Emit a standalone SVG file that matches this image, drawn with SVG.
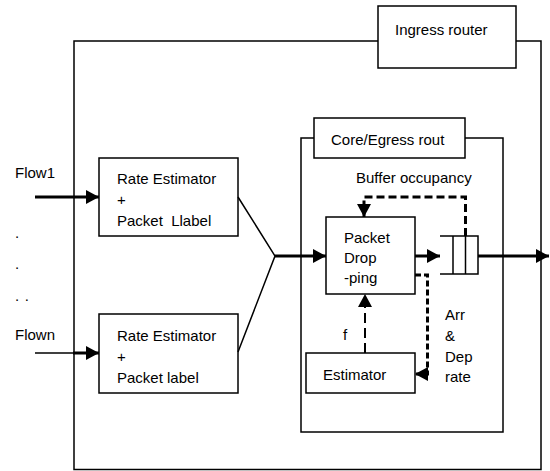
<svg xmlns="http://www.w3.org/2000/svg" width="550" height="471" viewBox="0 0 550 471">
<style>
  .box { fill: #fff; stroke: #000; stroke-width: 1.5; }
  .frame { fill: none; stroke: #000; stroke-width: 1.5; }
  text { font-family: "Liberation Sans", Arial, sans-serif; font-size: 15px; fill: #000; }
  .thick { fill: none; stroke: #000; stroke-width: 3; }
  .thin { fill: none; stroke: #000; stroke-width: 1.5; }
  .dash1 { fill: none; stroke: #000; stroke-width: 3; stroke-dasharray: 8 4; }
  .dash2 { fill: none; stroke: #000; stroke-width: 2; stroke-dasharray: 10 5; }
  .dash3 { fill: none; stroke: #000; stroke-width: 3; stroke-dasharray: 6 3; }
</style>
<defs>
  <marker id="ah" markerUnits="userSpaceOnUse" markerWidth="14" markerHeight="14" refX="13" refY="7" orient="auto">
    <path d="M0,0 L13,7 L0,14 Z" fill="#000"/>
  </marker>
</defs>

<g id="ingress-router">
  <rect class="frame" x="74" y="41" width="467" height="428.5"/>
  <rect class="box" x="378" y="6" width="138" height="62"/>
  <text x="395" y="35">Ingress router</text>
</g>

<g id="core-egress">
  <rect class="frame" x="301" y="138" width="202" height="294"/>
  <rect class="box" x="314" y="118" width="151" height="40"/>
  <text x="331" y="145">Core/Egress rout</text>
</g>

<g id="flow-labels">
  <text x="15" y="178">Flow1</text>
  <text x="15" y="238">.</text>
  <text x="15" y="269">.</text>
  <text x="15" y="301" letter-spacing="5.5">..</text>
  <text x="15" y="340">Flown</text>
</g>

<g id="rate-estimator-1">
  <rect class="box" x="99" y="158" width="139" height="78"/>
  <text x="117" y="184">Rate Estimator</text>
  <text x="117" y="205">+</text>
  <text x="117" y="226" xml:space="preserve">Packet  Llabel</text>
</g>

<g id="rate-estimator-2">
  <rect class="box" x="99" y="314" width="139" height="79"/>
  <text x="117" y="341">Rate Estimator</text>
  <text x="117" y="362">+</text>
  <text x="117" y="383">Packet label</text>
</g>

<g id="packet-dropping">
  <rect class="box" x="326" y="217" width="89" height="77"/>
  <text x="344" y="243">Packet</text>
  <text x="344" y="263">Drop</text>
  <text x="344" y="283">-ping</text>
</g>

<g id="queue">
  <path class="thin" d="M440,236 H478 V274 H440 M453,236 V274 M465.5,236 V274"/>
</g>

<g id="estimator">
  <rect class="box" x="306" y="353" width="109" height="40"/>
  <text x="323" y="380">Estimator</text>
</g>

<g id="annotations">
  <text x="356" y="183">Buffer occupancy</text>
  <text x="343" y="340">f</text>
  <text x="445" y="320">Arr</text>
  <text x="445" y="341">&amp;</text>
  <text x="445" y="362">Dep</text>
  <text x="445" y="382">rate</text>
</g>

<g id="connectors">
  <line class="thick" x1="35" y1="197" x2="99" y2="197" marker-end="url(#ah)"/>
  <line class="thin" x1="35" y1="353" x2="74" y2="353"/>
  <line class="thick" x1="73" y1="353" x2="99" y2="353" marker-end="url(#ah)"/>
  <path class="thin" d="M238,197 L275,256 L238,352"/>
  <line class="thick" x1="275" y1="256" x2="326" y2="256" marker-end="url(#ah)"/>
  <line class="thick" x1="415" y1="256" x2="440" y2="256" marker-end="url(#ah)"/>
  <line class="thick" x1="478" y1="256" x2="549" y2="256" marker-end="url(#ah)"/>
  <path class="dash1" d="M465.5,236 V197 H364 V217" marker-end="url(#ah)"/>
  <path class="dash2" d="M365,353 V294" marker-end="url(#ah)"/>
  <path class="dash3" d="M415,275 H427.5 V374 H415" marker-end="url(#ah)"/>
</g>
</svg>
